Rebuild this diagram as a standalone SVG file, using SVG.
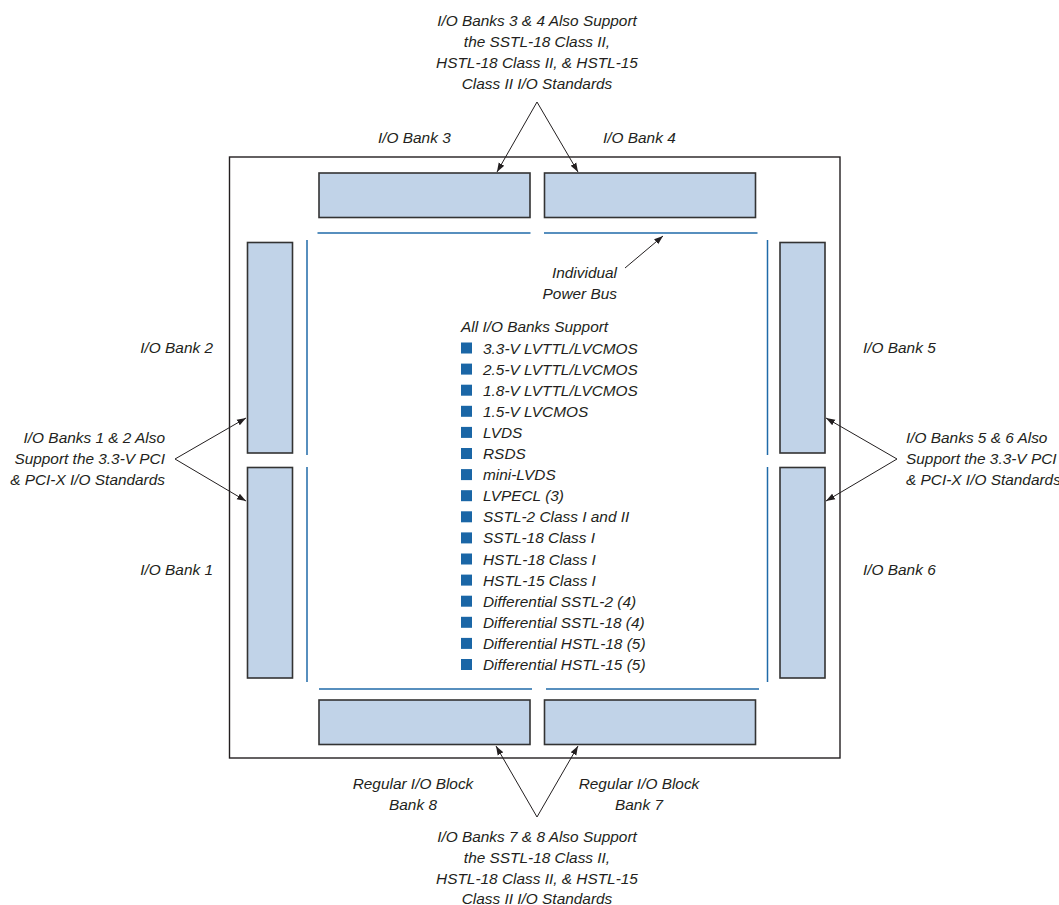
<svg xmlns="http://www.w3.org/2000/svg" width="1059" height="905" viewBox="0 0 1059 905">
  <style>
    text { font-family: "Liberation Sans", Arial, sans-serif; font-style: italic; font-size: 15.4px; fill: #231f20; }
    .mid { text-anchor: middle; }
    .end { text-anchor: end; }
    .bank { fill: #c1d3e8; stroke: #333333; stroke-width: 1.6; }
    .bus { stroke: #1f6aa8; stroke-width: 1.5; fill: none; }
    .arrow { stroke: #231f20; stroke-width: 1; fill: none; marker-end: url(#ah); }
    .sq { fill: #1a66a6; }
  </style>
  <defs>
    <marker id="ah" markerUnits="userSpaceOnUse" markerWidth="10" markerHeight="8" refX="9" refY="4" orient="auto">
      <path d="M0,0.8 L9,4 L0,7.2 Z" fill="#231f20"/>
    </marker>
  </defs>
  <rect width="1059" height="905" fill="#ffffff"/>

  <g id="chip">
    <rect x="229.5" y="157" width="610.5" height="601" fill="none" stroke="#231f20" stroke-width="1.4"/>
  </g>

  <g id="bank3"><rect class="bank" x="319" y="173" width="211" height="44.5"/><text x="378" y="143">I/O Bank 3</text></g>
  <g id="bank4"><rect class="bank" x="544.5" y="173" width="211" height="44.5"/><text x="603" y="143">I/O Bank 4</text></g>
  <g id="bank2"><rect class="bank" x="247.5" y="242.5" width="45" height="210.5"/><text class="end" x="213" y="353">I/O Bank 2</text></g>
  <g id="bank1"><rect class="bank" x="247.5" y="467.5" width="45" height="210.5"/><text class="end" x="213" y="575">I/O Bank 1</text></g>
  <g id="bank5"><rect class="bank" x="780" y="242.5" width="45" height="210.5"/><text x="863" y="353">I/O Bank 5</text></g>
  <g id="bank6"><rect class="bank" x="780" y="467.5" width="45" height="210.5"/><text x="863" y="575">I/O Bank 6</text></g>
  <g id="bank8"><rect class="bank" x="319" y="700" width="211" height="44.5"/><text class="mid" x="413" y="789">Regular I/O Block</text><text class="mid" x="413" y="810">Bank 8</text></g>
  <g id="bank7"><rect class="bank" x="544.5" y="700" width="211" height="44.5"/><text class="mid" x="639" y="789">Regular I/O Block</text><text class="mid" x="639" y="810">Bank 7</text></g>

  <g id="power-bus">
    <line class="bus" x1="317.5" y1="233" x2="530.5" y2="233"/>
    <line class="bus" x1="544" y1="233" x2="757.5" y2="233"/>
    <line class="bus" x1="319" y1="689" x2="532" y2="689"/>
    <line class="bus" x1="546" y1="689" x2="759" y2="689"/>
    <line class="bus" x1="307" y1="240" x2="307" y2="455"/>
    <line class="bus" x1="307" y1="467" x2="307" y2="682"/>
    <line class="bus" x1="767.5" y1="240" x2="767.5" y2="455"/>
    <line class="bus" x1="767.5" y1="467" x2="767.5" y2="682"/>
  </g>

  <g id="note-top">
    <text class="mid" x="537" y="26">I/O Banks 3 &amp; 4 Also Support</text>
    <text class="mid" x="537" y="47">the SSTL-18 Class II,</text>
    <text class="mid" x="537" y="68">HSTL-18 Class II, &amp; HSTL-15</text>
    <text class="mid" x="537" y="89">Class II I/O Standards</text>
  </g>
  <g id="note-bottom">
    <text class="mid" x="537" y="842">I/O Banks 7 &amp; 8 Also Support</text>
    <text class="mid" x="537" y="863">the SSTL-18 Class II,</text>
    <text class="mid" x="537" y="884">HSTL-18 Class II, &amp; HSTL-15</text>
    <text class="mid" x="537" y="904">Class II I/O Standards</text>
  </g>
  <g id="note-left">
    <text class="end" x="165" y="443">I/O Banks 1 &amp; 2 Also</text>
    <text class="end" x="165" y="464">Support the 3.3-V PCI</text>
    <text class="end" x="165" y="485">&amp; PCI-X I/O Standards</text>
  </g>
  <g id="note-right">
    <text x="906" y="443">I/O Banks 5 &amp; 6 Also</text>
    <text x="906" y="464">Support the 3.3-V PCI</text>
    <text x="906" y="485">&amp; PCI-X I/O Standards</text>
  </g>
  <g id="note-bus">
    <text class="end" x="617" y="278">Individual</text>
    <text class="end" x="617" y="299">Power Bus</text>
  </g>

  <g id="standards-list">
    <text x="461" y="332">All I/O Banks Support</text>
    <rect class="sq" x="461" y="342.5" width="11" height="11"/><text x="483" y="353.5">3.3-V LVTTL/LVCMOS</text>
    <rect class="sq" x="461" y="363.6" width="11" height="11"/><text x="483" y="374.6">2.5-V LVTTL/LVCMOS</text>
    <rect class="sq" x="461" y="384.7" width="11" height="11"/><text x="483" y="395.7">1.8-V LVTTL/LVCMOS</text>
    <rect class="sq" x="461" y="405.8" width="11" height="11"/><text x="483" y="416.8">1.5-V LVCMOS</text>
    <rect class="sq" x="461" y="426.9" width="11" height="11"/><text x="483" y="437.9">LVDS</text>
    <rect class="sq" x="461" y="448" width="11" height="11"/><text x="483" y="459">RSDS</text>
    <rect class="sq" x="461" y="469.1" width="11" height="11"/><text x="483" y="480.1">mini-LVDS</text>
    <rect class="sq" x="461" y="490.2" width="11" height="11"/><text x="483" y="501.2">LVPECL (3)</text>
    <rect class="sq" x="461" y="511.3" width="11" height="11"/><text x="483" y="522.3">SSTL-2 Class I and II</text>
    <rect class="sq" x="461" y="532.4" width="11" height="11"/><text x="483" y="543.4">SSTL-18 Class I</text>
    <rect class="sq" x="461" y="553.5" width="11" height="11"/><text x="483" y="564.5">HSTL-18 Class I</text>
    <rect class="sq" x="461" y="574.6" width="11" height="11"/><text x="483" y="585.6">HSTL-15 Class I</text>
    <rect class="sq" x="461" y="595.7" width="11" height="11"/><text x="483" y="606.7">Differential SSTL-2 (4)</text>
    <rect class="sq" x="461" y="616.8" width="11" height="11"/><text x="483" y="627.8">Differential SSTL-18 (4)</text>
    <rect class="sq" x="461" y="637.9" width="11" height="11"/><text x="483" y="648.9">Differential HSTL-18 (5)</text>
    <rect class="sq" x="461" y="659" width="11" height="11"/><text x="483" y="670">Differential HSTL-15 (5)</text>
  </g>

  <g id="connectors">
    <line class="arrow" x1="537" y1="102" x2="497" y2="172"/>
    <line class="arrow" x1="537" y1="102" x2="578" y2="172"/>
    <line class="arrow" x1="625" y1="268" x2="663" y2="236"/>
    <line class="arrow" x1="175" y1="459" x2="246" y2="418"/>
    <line class="arrow" x1="175" y1="459" x2="246" y2="501"/>
    <line class="arrow" x1="897" y1="459" x2="826" y2="418"/>
    <line class="arrow" x1="897" y1="459" x2="826" y2="501"/>
    <line class="arrow" x1="537" y1="817" x2="496" y2="746"/>
    <line class="arrow" x1="537" y1="817" x2="578" y2="746"/>
  </g>
</svg>
